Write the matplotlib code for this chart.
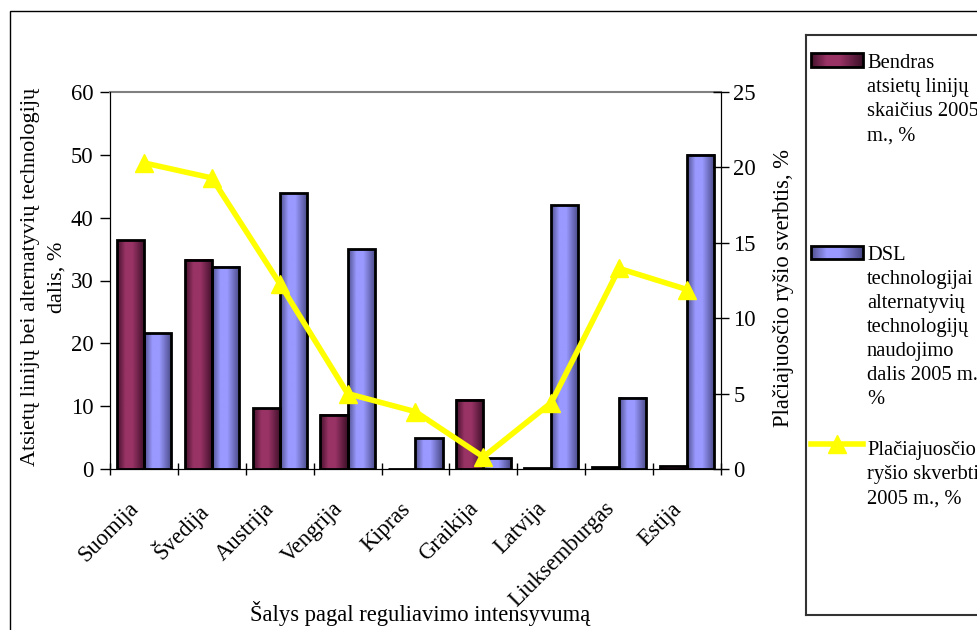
import numpy as np
import matplotlib.pyplot as plt
from matplotlib.colors import LinearSegmentedColormap
from matplotlib.patches import Rectangle

plt.rcParams['font.family'] = ['Liberation Serif', 'DejaVu Serif']

salys = ['Suomija', 'Švedija', 'Austrija', 'Vengrija', 'Kipras',
         'Graikija', 'Latvija', 'Liuksemburgas', 'Estija']
atsieta = [36.4, 33.3, 9.7, 8.6, 0.0, 11.0, 0.1, 0.3, 0.4]
dsl_alt = [21.6, 32.2, 43.9, 35.0, 4.9, 1.7, 42.0, 11.3, 50.0]
skverbtis = [20.3, 19.3, 12.3, 5.0, 3.8, 0.8, 4.4, 13.3, 11.9]

lbl_atsieta = 'Bendras\natsietų linijų\nskaičius 2005\nm., %'
lbl_dsl = 'DSL\ntechnologijai\nalternatyvių\ntechnologijų\nnaudojimo\ndalis 2005 m.\n%'
lbl_line = 'Plačiajuosčio\nryšio skverbtis\n2005 m., %'

cm_red = LinearSegmentedColormap.from_list(
    'r', [(0, '#45122b'), (0.3, '#993366'), (0.55, '#993366'), (1, '#3d1028')])
cm_blue = LinearSegmentedColormap.from_list(
    'b', [(0, '#50508f'), (0.3, '#9999ff'), (0.55, '#9999ff'), (1, '#484885')])
grad = np.linspace(0, 1, 64).reshape(1, -1)

W, H = 978, 630
fs = 16.3
fig = plt.figure(figsize=(W / 100, H / 100), dpi=100)

# outer frame
fig.patches.append(Rectangle((10 / W, -0.1), 2, 1.1 - 11 / H, transform=fig.transFigure,
                             fill=False, edgecolor='black', lw=1))

ax = fig.add_axes([110 / W, (H - 469) / H, 611 / W, 377 / H])
x = np.arange(len(salys))
w = 0.4


def shade(bars, cmap, a):
    for r in bars:
        h = r.get_height()
        if h <= 0:
            continue
        x0 = r.get_x()
        a.imshow(grad, cmap=cmap, extent=[x0, x0 + r.get_width(), 0, h],
                 aspect='auto', zorder=2, interpolation='bilinear')


b1 = ax.bar(x - w / 2, atsieta, w, facecolor='none', edgecolor='black', lw=2, zorder=3)
b2 = ax.bar(x + w / 2, dsl_alt, w, facecolor='none', edgecolor='black', lw=2, zorder=3)
shade(b1, cm_red, ax)
shade(b2, cm_blue, ax)

ax.set_xlim(-0.5, len(salys) - 0.5)
ax.set_ylim(0, 60)
ax.set_yticks(range(0, 61, 10))
# labels sit a bit left of the group centre, like in Excel
ax.set_xticks(x - 0.23)
ax.set_xticklabels(salys, rotation=45, ha='right', rotation_mode='anchor', fontsize=fs)
ax.set_xticks(np.arange(-0.5, len(salys), 1), minor=True)
ax.tick_params(axis='x', which='major', length=0, pad=21)
ax.tick_params(axis='x', which='minor', length=9, direction='inout', width=1)
ax.tick_params(axis='y', labelsize=fs, length=7, width=1, pad=5)
ax.spines['top'].set_color('#808080')
ax.spines['top'].set_linewidth(1.5)

ax2 = ax.twinx()
ax2.plot(x, skverbtis, color='#ffff00', lw=4, marker='^', markersize=13, zorder=5)
ax2.set_ylim(0, 25)
ax2.set_yticks(range(0, 26, 5))
ax2.tick_params(axis='y', labelsize=fs, length=12, direction='inout', width=1, pad=3)
ax2.spines['top'].set_visible(False)

fig.text(31 / W, 1 - 277 / H, 'Atsietų linijų bei alternatyvių technologijų',
         rotation=90, ha='center', va='center', fontsize=16)
fig.text(57 / W, 1 - 277 / H, 'dalis, %', rotation=90, ha='center', va='center', fontsize=16)
fig.text(783 / W, 1 - 288 / H, 'Plačiajuosčio ryšio sverbtis, %',
         rotation=90, ha='center', va='center', fontsize=fs)
fig.text(420 / W, 1 - 613 / H, 'Šalys pagal reguliavimo intensyvumą',
         ha='center', va='center', fontsize=fs)

# legend box
lax = fig.add_axes([806 / W, (H - 615) / H, 300 / W, 580 / H])
lax.set_xticks([])
lax.set_yticks([])
for s in lax.spines.values():
    s.set_color('#333333')
    s.set_linewidth(1.5)

lax.imshow(grad, cmap=cm_red, extent=[811, 863, 67, 53], aspect='auto', zorder=2)
lax.add_patch(Rectangle((811, 53), 52, 14, fill=False, edgecolor='black', lw=2, zorder=3))
lax.imshow(grad, cmap=cm_blue, extent=[811, 863, 259, 246], aspect='auto', zorder=2)
lax.add_patch(Rectangle((811, 246), 52, 13, fill=False, edgecolor='black', lw=2, zorder=3))
lax.plot([811, 863], [444, 444], color='#ffff00', lw=4)
lax.plot([837], [444], marker='^', color='#ffff00', markersize=13)
lax.set_xlim(806, 1106)
lax.set_ylim(615, 35)

lax.text(867, 54, lbl_atsieta, va='top', ha='left', fontsize=14.8, linespacing=1.36)
lax.text(867, 246, lbl_dsl, va='top', ha='left', fontsize=14.8, linespacing=1.36)
lax.text(867, 441, lbl_line, va='top', ha='left', fontsize=14.8, linespacing=1.36)

fig.savefig('out.png', dpi=100)
